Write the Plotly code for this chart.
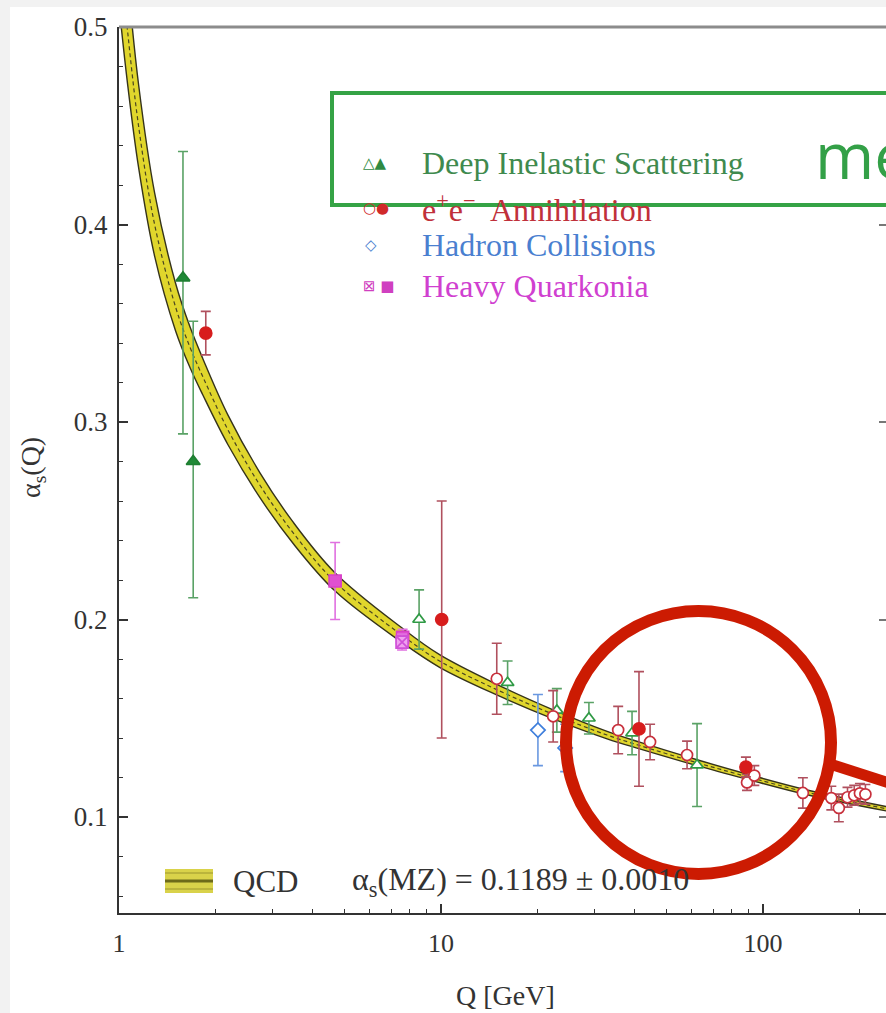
import plotly.graph_objects as go

# ---------------- QCD running coupling band ----------------
qcd_q = [1.0, 1.06, 1.15, 1.29, 1.5, 1.66, 1.82, 2.18, 2.74, 3.47, 4.69, 7.5, 9.9,
         14.9, 22.3, 32.8, 41.4, 62.4, 89.0, 137.0, 245.0]
qcd_alpha = [0.543, 0.500, 0.450, 0.400, 0.358, 0.338, 0.323, 0.296, 0.268, 0.244, 0.219,
             0.1925, 0.179, 0.1645, 0.152, 0.1415, 0.1362, 0.1275, 0.1205, 0.1125, 0.104]
qcd_halfwidth = [0.032, 0.027, 0.021, 0.016, 0.012, 0.0103, 0.0092, 0.0075, 0.0063, 0.0054,
                 0.0046, 0.0037, 0.0032, 0.0027, 0.0023, 0.0019, 0.0017, 0.0015, 0.0013,
                 0.0012, 0.0011]

# ---------------- measurements ----------------
# Deep inelastic scattering (filled = NNLO, open = NLO)
dis_full_q = [1.58, 1.70]
dis_full_a = [0.373, 0.280]
dis_full_ep = [0.064, 0.071]
dis_full_em = [0.079, 0.069]
dis_open_q = [8.55, 16.1, 22.9, 28.8, 39.2, 62.4]
dis_open_a = [0.200, 0.168, 0.154, 0.150, 0.1425, 0.1263]
dis_open_e = [0.015, 0.011, 0.011, 0.008, 0.011, 0.021]

# e+e- annihilation
ee_full_q = [1.86, 10.05, 41.2, 88.5]
ee_full_a = [0.345, 0.200, 0.1446, 0.1253]
ee_full_e = [0.011, 0.060, 0.029, 0.005]
ee_open_q = [14.9, 22.3, 35.5, 44.6, 58.1, 89.2, 94.0, 133.0, 163.0, 172.0, 183.0,
             192.0, 200.0, 208.0]
ee_open_a = [0.170, 0.151, 0.144, 0.138, 0.1314, 0.1175, 0.121, 0.1122, 0.1096, 0.1046,
             0.110, 0.111, 0.112, 0.1115]
ee_open_e = [0.018, 0.013, 0.012, 0.009, 0.007, 0.004, 0.005, 0.0077, 0.006, 0.007,
             0.005, 0.005, 0.005, 0.005]

# Hadron collisions
had_q = [20.0, 24.3]
had_a = [0.144, 0.135]
had_e = [0.018, 0.012]

# Heavy quarkonia
hq_full_q = [4.69, 7.6]
hq_full_a = [0.2195, 0.191]
hq_full_e = [0.0195, 0.004]
hq_open_q = [7.57]
hq_open_a = [0.1886]
hq_open_e = [0.004]

# axis ticks
y_ticks = [0.1, 0.2, 0.3, 0.4, 0.5]
y_ticklabels = ["0.1", "0.2", "0.3", "0.4", "0.5"]
x_ticks = [1, 10, 100]
x_ticklabels = ["1", "10", "100"]
x_minor = [2, 3, 4, 5, 6, 7, 8, 9, 20, 30, 40, 50, 60, 70, 80, 90, 200]

W, H = 886, 1013
L, R, T, B = 119, 0, 27, 100


def px(x):
    return (x - L) / (W - L - R)


def py(y):
    return (H - B - y) / (H - T - B)


SERIF = "Liberation Serif, Times New Roman, serif"

fig = go.Figure()

# band: upper edge, lower edge filled to upper, centre line
upper = [a + h for a, h in zip(qcd_alpha, qcd_halfwidth)]
lower = [a - h for a, h in zip(qcd_alpha, qcd_halfwidth)]
fig.add_trace(go.Scatter(x=qcd_q, y=upper, mode="lines",
                         line=dict(color="#35331a", width=1.4, shape="spline"),
                         hoverinfo="skip"))
fig.add_trace(go.Scatter(x=qcd_q, y=lower, mode="lines", fill="tonexty",
                         fillcolor="#e0d62c",
                         line=dict(color="#35331a", width=1.4, shape="spline"),
                         hoverinfo="skip"))
fig.add_trace(go.Scatter(x=qcd_q, y=qcd_alpha, mode="lines",
                         line=dict(color="#4a4620", width=1.2, shape="spline", dash="4px,3px"),
                         hoverinfo="skip"))


def points(q, a, ep, em, symbol, color, fill, barcolor, size):
    fig.add_trace(go.Scatter(
        x=q, y=a, mode="markers",
        marker=dict(symbol=symbol, size=size, color=fill,
                    line=dict(color=color, width=1.7)),
        error_y=dict(type="data", symmetric=False, array=ep, arrayminus=em,
                     color=barcolor, thickness=1.6, width=5),
    ))


# DIS
points(dis_open_q, dis_open_a, dis_open_e, dis_open_e, "triangle-up", "#2f9a45", "white", "#5aa266", 11)
points(dis_full_q, dis_full_a, dis_full_ep, dis_full_em, "triangle-up", "#1f7f32", "#1f8a36", "#5aa266", 12)
# e+e-
points(ee_open_q, ee_open_a, ee_open_e, ee_open_e, "circle", "#c8303c", "white", "#b0505e", 11)
points(ee_full_q, ee_full_a, ee_full_e, ee_full_e, "circle", "#d61e1e", "#d81c1c", "#b0505e", 12)
# hadron collisions
points(had_q, had_a, had_e, had_e, "diamond", "#3f7fdc", "white", "#6a98e0", 11)
# heavy quarkonia
points(hq_full_q, hq_full_a, hq_full_e, hq_full_e, "square", "#d840c8", "#e050d0", "#e070e0", 12)
points(hq_open_q, hq_open_a, hq_open_e, hq_open_e, "square-x", "#d050d8", "#f0a0f0", "#e070e0", 12)

shapes = [
    # light page border
    dict(type="rect", xref="paper", yref="paper", x0=px(10), x1=px(900), y0=py(7), y1=py(1020),
         fillcolor="white", line=dict(width=0), layer="below"),
    # top frame
    dict(type="line", xref="paper", yref="paper", x0=0, x1=1.02, y0=1, y1=1,
         line=dict(color="#8c8c8c", width=3)),
    # QCD legend swatch
    dict(type="rect", xref="paper", yref="paper", x0=px(165), x1=px(213), y0=py(869), y1=py(893),
         fillcolor="#d9d24a", line=dict(width=0)),
    dict(type="line", xref="paper", yref="paper", x0=px(165), x1=px(213), y0=py(881), y1=py(881),
         line=dict(color="#6d6a1a", width=3)),
    dict(type="line", xref="paper", yref="paper", x0=px(165), x1=px(213), y0=py(873), y1=py(873),
         line=dict(color="#9c962e", width=1)),
    dict(type="line", xref="paper", yref="paper", x0=px(165), x1=px(213), y0=py(889), y1=py(889),
         line=dict(color="#9c962e", width=1)),
    # highlight box
    dict(type="rect", xref="paper", yref="paper", x0=px(332), x1=px(905), y0=py(205), y1=py(93),
         line=dict(color="#35a345", width=4)),
    # highlight circle and pointer
    dict(type="circle", xref="paper", yref="paper", x0=px(566), x1=px(831), y0=py(874), y1=py(611),
         line=dict(color="#cc1b02", width=12)),
    dict(type="line", xref="paper", yref="paper", x0=px(830), x1=px(905), y0=py(764), y1=py(788),
         line=dict(color="#cc1b02", width=11)),
]

annotations = []


def txt(x, y, s, color, size, family=SERIF, anchor="left", angle=0):
    annotations.append(dict(xref="paper", yref="paper", x=px(x), y=py(y), text=s,
                            showarrow=False, xanchor=anchor, yanchor="middle",
                            textangle=angle,
                            font=dict(family=family, size=size, color=color)))


SYM = "DejaVu Sans"
txt(361, 163, "△▲", "#2f8a42", 15, SYM)
txt(420, 163, "Deep Inelastic Scattering", "#3f8a4e", 32)
txt(361, 208, "○●", "#d02a2a", 15, SYM)
txt(420, 208, "e<sup>+</sup>e<sup>−</sup>  Annihilation", "#c0303a", 32)
txt(363, 245, "◇", "#4a7fd0", 15, SYM)
txt(420, 245, "Hadron Collisions", "#4a7fd0", 32)
txt(361, 286, "⊠ ■", "#d040c0", 15, SYM)
txt(420, 286, "Heavy Quarkonia", "#d040d0", 32)

txt(231, 881, "QCD", "#333333", 31)
txt(350, 881, "α<sub>s</sub>(MZ) = 0.1189 ± 0.0010", "#333333", 32)

txt(505, 995, "Q [GeV]", "#333333", 28, anchor="center")
txt(32, 468, "α<sub>s</sub>(Q)", "#333333", 28, anchor="center", angle=-90)

txt(813, 155, "me", "#33a047", 64, "Open Sans")

axis_font = dict(family=SERIF, size=27, color="#333")

fig.update_layout(
    width=W, height=H,
    margin=dict(l=L, r=R, t=T, b=B),
    paper_bgcolor="#f2f2f2",
    plot_bgcolor="rgba(0,0,0,0)",
    showlegend=False,
    shapes=shapes,
    annotations=annotations,
    xaxis=dict(type="log", range=[0, 2.382], tickvals=x_ticks, ticktext=x_ticklabels,
               ticks="inside", ticklen=9, tickwidth=1.5, tickcolor="#333",
               showline=True, linecolor="#333", linewidth=2, showgrid=False, zeroline=False,
               ticklabelstandoff=6,
               minor=dict(tickvals=x_minor, ticks="inside", ticklen=4, tickcolor="#333", tickwidth=1.2),
               tickfont=dict(family=SERIF, size=26, color="#333")),
    yaxis=dict(range=[0.0514, 0.5], tickvals=y_ticks, ticktext=y_ticklabels,
               ticks="inside", ticklen=9, tickwidth=1.5, tickcolor="#333",
               showline=True, linecolor="#333", linewidth=2,
               showgrid=False, zeroline=False, ticklabelstandoff=4,
               minor=dict(dtick=0.02, ticks="inside", ticklen=4, tickcolor="#333", tickwidth=1.2),
               tickfont=axis_font),
    # right-hand frame ticks only
    yaxis2=dict(range=[0.0514, 0.5], overlaying="y", side="right", tickvals=y_ticks,
                ticks="inside", ticklen=7, tickwidth=1.5, tickcolor="#777",
                showticklabels=False, showline=False, showgrid=False, zeroline=False),
)
# an invisible trace to bring the right-hand axis into the figure
fig.add_trace(go.Scatter(x=[qcd_q[0]], y=[qcd_alpha[0]], yaxis="y2", mode="markers",
                         marker=dict(opacity=0), hoverinfo="skip"))

fig.write_html("out.html")
